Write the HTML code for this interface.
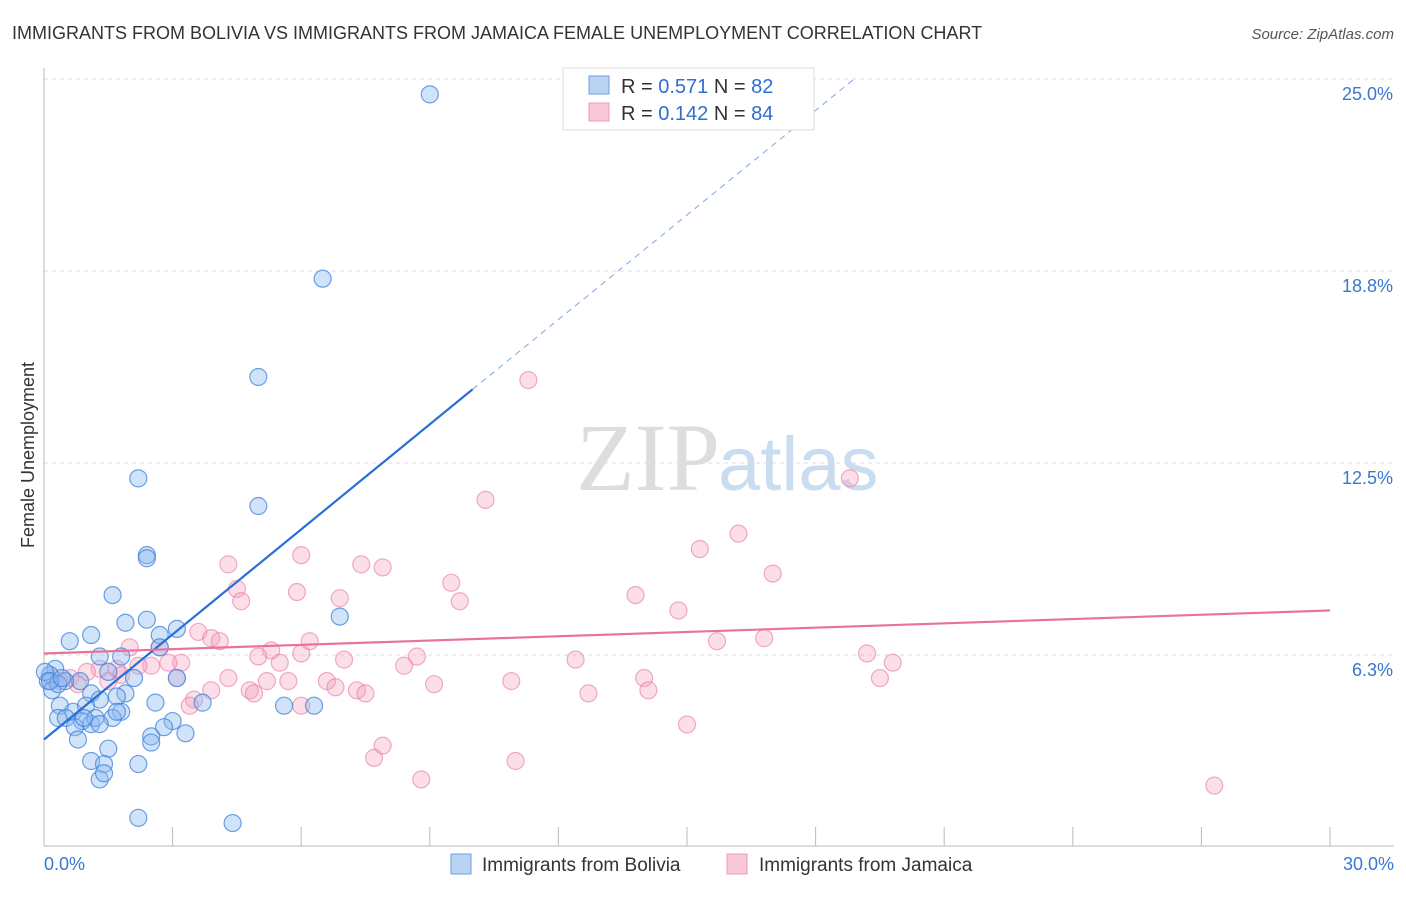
<!DOCTYPE html>
<html><head><meta charset="utf-8"><style>
body{margin:0;background:#fff;font-family:"Liberation Sans",sans-serif}
</style></head><body>
<svg id="c" width="1406" height="892" xmlns="http://www.w3.org/2000/svg" style="font-family:'Liberation Sans',sans-serif">
<text x="12" y="39" font-size="18" fill="#333">IMMIGRANTS FROM BOLIVIA VS IMMIGRANTS FROM JAMAICA FEMALE UNEMPLOYMENT CORRELATION CHART</text>
<text x="1394" y="39" font-size="15" fill="#555" font-style="italic" text-anchor="end">Source: ZipAtlas.com</text>
<text x="720" y="490" font-size="96" fill="#ddd" text-anchor="end" font-family="Liberation Serif">ZIP</text>
<text x="718" y="490" font-size="76" fill="#c9dcf0">atlas</text>
<text transform="translate(34,455) rotate(-90)" font-size="18" fill="#333" text-anchor="middle">Female Unemployment</text>
<g id="grid"></g><g id="pts"></g><g id="lines"></g>
<g>
<rect x="563" y="68" width="251" height="62" fill="#fff" stroke="#ddd"/>
<rect x="589" y="76" width="20" height="18" fill="#b9d3f5" stroke="#6f9fde"/>
<rect x="589" y="103" width="20" height="18" fill="#f9c9d8" stroke="#ec9ab4"/>
<text x="621" y="93" font-size="20" fill="#333">R = <tspan fill="#2f6fd0">0.571</tspan>   N = <tspan fill="#2f6fd0">82</tspan></text>
<text x="621" y="120" font-size="20" fill="#333">R = <tspan fill="#2f6fd0">0.142</tspan>   N = <tspan fill="#2f6fd0">84</tspan></text>
</g>
<g>
<rect x="451" y="854" width="20" height="20" fill="#b9d3f5" stroke="#6f9fde"/>
<text x="482" y="871" font-size="19" fill="#333">Immigrants from Bolivia</text>
<rect x="727" y="854" width="20" height="20" fill="#f9c9d8" stroke="#ec9ab4"/>
<text x="759" y="871" font-size="19" fill="#333">Immigrants from Jamaica</text>
</g>
</svg>
<script>
const yTicks=[6.25,12.5,18.75,25];
const yTickLabels=["6.3%","12.5%","18.8%","25.0%"];
const xTickLabels=["0.0%","30.0%"];
const bolivia=[[9.0,24.5],[6.5,18.5],[5.0,15.3],[2.2,12.0],[5.0,11.1],[2.4,9.5],[2.4,9.4],[6.9,7.5],[1.6,8.2],[1.9,7.3],[2.4,7.4],[3.1,7.1],[2.7,6.9],[1.1,6.9],[0.6,6.7],[1.3,6.2],[1.8,6.2],[2.7,6.5],[3.1,5.5],[1.5,5.7],[2.1,5.5],[0.84,5.4],[0.26,5.8],[0.14,5.6],[0.09,5.4],[0.49,5.4],[0.19,5.1],[1.1,5.0],[1.9,5.0],[1.3,4.8],[1.7,4.9],[1.8,4.4],[0.37,4.6],[0.68,4.4],[0.89,4.1],[0.98,4.6],[1.1,4.0],[0.33,4.2],[0.51,4.2],[1.2,4.2],[1.6,4.2],[2.6,4.7],[3.7,4.7],[3.0,4.1],[3.3,3.7],[2.8,3.9],[2.5,3.6],[2.5,3.4],[0.72,3.9],[0.79,3.5],[1.3,4.0],[1.5,3.2],[1.1,2.8],[1.4,2.7],[1.3,2.2],[1.4,2.4],[2.2,2.7],[5.6,4.6],[6.3,4.6],[2.2,0.95],[4.4,0.78],[0.33,5.3],[0.02,5.7],[0.14,5.4],[0.42,5.5],[0.93,4.2],[1.7,4.4]];
const jamaica=[[11.3,15.2],[18.8,12.0],[10.3,11.3],[16.2,10.2],[15.3,9.7],[6.0,9.5],[7.4,9.2],[7.9,9.1],[4.3,9.2],[17.0,8.9],[9.5,8.6],[4.5,8.4],[5.9,8.3],[6.9,8.1],[4.6,8.0],[9.7,8.0],[13.8,8.2],[14.8,7.7],[3.6,7.0],[3.9,6.8],[4.1,6.7],[2.0,6.5],[2.7,6.5],[16.8,6.8],[15.7,6.7],[5.3,6.4],[5.0,6.2],[6.0,6.3],[7.0,6.1],[6.2,6.7],[8.7,6.2],[8.4,5.9],[12.4,6.1],[19.2,6.3],[19.8,6.0],[3.2,6.0],[2.9,6.0],[2.5,5.9],[2.2,5.9],[1.7,5.8],[1.3,5.8],[1.0,5.7],[0.61,5.5],[0.37,5.4],[1.8,5.6],[4.3,5.5],[3.9,5.1],[5.2,5.4],[5.7,5.4],[5.5,6.0],[6.6,5.4],[10.9,5.4],[14.0,5.5],[19.5,5.5],[3.1,5.5],[4.8,5.1],[4.9,5.0],[6.8,5.2],[7.3,5.1],[7.5,5.0],[9.1,5.3],[12.7,5.0],[14.1,5.1],[3.5,4.8],[3.4,4.6],[6.0,4.6],[15.0,3.99],[7.9,3.3],[7.7,2.9],[11.0,2.8],[8.8,2.2],[27.3,2.0],[0.19,5.5],[0.79,5.3],[1.5,5.4]];
const boliviaTrend=[[0,3.5],[10.0,14.9]];
const boliviaTrendExt=[[10.0,14.9],[18.9,25.0]];
const jamaicaTrend=[[0,6.3],[30,7.7]];
const X=v=>44+v/30*1286, Y=v=>847-v*30.72;
const NS="http://www.w3.org/2000/svg";
function mk(t,a,p){const e=document.createElementNS(NS,t);for(const k in a)e.setAttribute(k,a[k]);p.appendChild(e);return e;}
const grid=document.getElementById('grid');
yTicks.forEach((t,i)=>{
 const l=mk('line',{x1:44,x2:1394,y1:Y(t),y2:Y(t),stroke:'#ddd','stroke-dasharray':'4,4'},grid);
 
 
 const tx=mk('text',{x:1393,y:Y(t)+21,'font-size':18,fill:'#3a78d0','text-anchor':'end'},grid);
 tx.textContent=yTickLabels[i];
 
 
});
const ax=mk('line',{x1:44,x2:44,y1:68,y2:846,stroke:'#bbb'},grid);


const bx=mk('line',{x1:44,x2:1394,y1:846,y2:846,stroke:'#bbb'},grid);


for(let i=1;i<=10;i++){const t=mk('line',{x1:X(i*3),x2:X(i*3),y1:827,y2:846,stroke:'#bbb'},grid);
 
 }
[[0,'start',44],[30,'end',1394]].forEach((d,i)=>{const t=mk('text',{x:d[2],y:870,'font-size':18,fill:'#3a78d0','text-anchor':d[1]},grid);t.textContent=xTickLabels[i];
 
 });
const pts=document.getElementById('pts');
jamaica.forEach(p=>{const c=mk('circle',{cx:X(p[0]),cy:Y(p[1]),r:8.5,fill:'rgba(244,160,190,0.35)',stroke:'rgba(232,120,160,0.6)','stroke-width':1.2},pts);
 
 });
bolivia.forEach(p=>{const c=mk('circle',{cx:X(p[0]),cy:Y(p[1]),r:8.5,fill:'rgba(140,185,240,0.4)',stroke:'rgba(60,130,220,0.75)','stroke-width':1.2},pts);
 
 });
const ln=document.getElementById('lines');
const a=mk('line',{x1:X(boliviaTrend[0][0]),y1:Y(boliviaTrend[0][1]),x2:X(boliviaTrend[1][0]),y2:Y(boliviaTrend[1][1]),stroke:'#2a6fd6','stroke-width':2.2},ln);


const b=mk('line',{x1:X(boliviaTrendExt[0][0]),y1:Y(boliviaTrendExt[0][1]),x2:X(boliviaTrendExt[1][0]),y2:Y(boliviaTrendExt[1][1]),stroke:'#8fb4e8','stroke-width':1.2,'stroke-dasharray':'6,5'},ln);


const c2=mk('line',{x1:X(jamaicaTrend[0][0]),y1:Y(jamaicaTrend[0][1]),x2:X(jamaicaTrend[1][0]),y2:Y(jamaicaTrend[1][1]),stroke:'#e8729a','stroke-width':2.2},ln);


</script>
</body></html>
